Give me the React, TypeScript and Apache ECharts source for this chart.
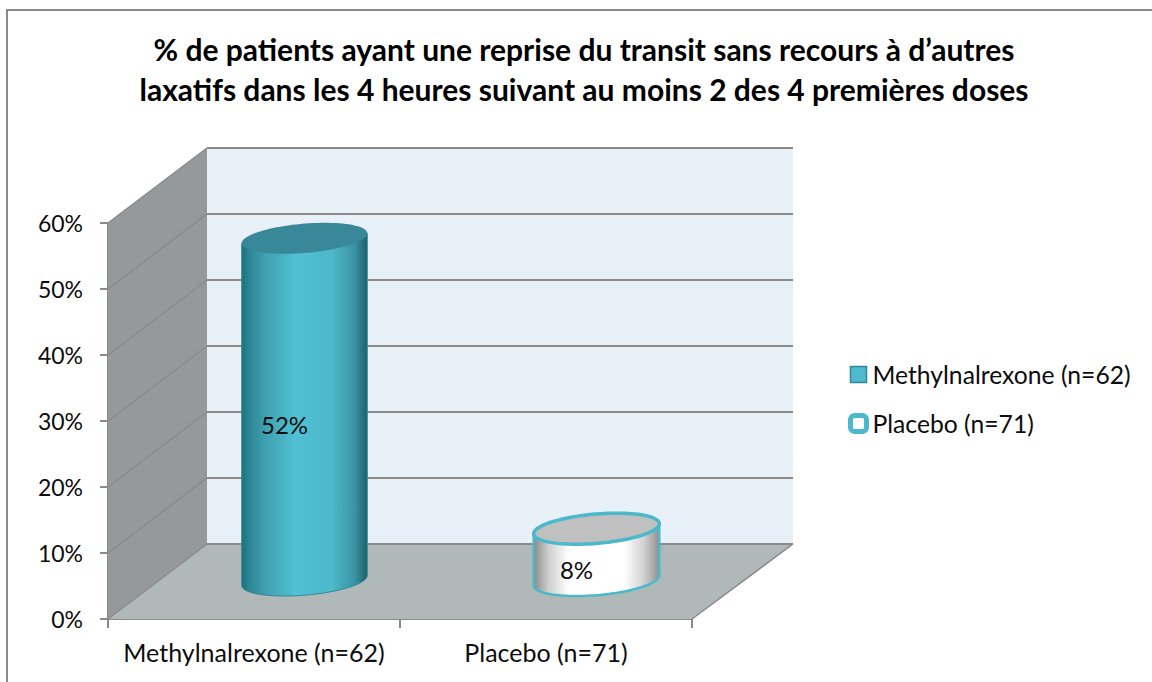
import React, { useEffect, useRef } from "react";
import * as echarts from "echarts";

const titleLines = [
  "% de patients ayant une reprise du transit sans recours à d’autres",
  "laxatifs dans les 4 heures suivant au moins 2 des 4 premières doses",
];
const categories = ["Methylnalrexone (n=62)", "Placebo (n=71)"];
const methylValues: [string, number][] = [["Methylnalrexone (n=62)", 52]];
const placeboValues: [string, number][] = [["Placebo (n=71)", 8]];
const gridValues = [0, 10, 20, 30, 40, 50, 60];

const FONT = "Lato, 'Open Sans', sans-serif";
const DEPTH_X = 99;
const DEPTH_Y = 75;
const BAR_SHIFT = 50.5;
const BASE_LIFT = 1;
const TILT = 5;
const ELL_V = 14.7;
const BAR_RATIO = 0.43;
const GRID_COLOR = "#8a8a8a";
const TEXT_COLOR = "#0d0d0d";

function ringPoint(cx: number, cy: number, a: number, t: number) {
  return [cx + a * Math.cos(t), cy - TILT * Math.cos(t) + ELL_V * Math.sin(t)];
}
function ringPoints(cx: number, cy: number, a: number, from: number, to: number, n: number) {
  const out: number[][] = [];
  for (let i = 0; i <= n; i++) out.push(ringPoint(cx, cy, a, from + ((to - from) * i) / n));
  return out;
}

function cylinder(api: any, bodyStops: any[], topFill: string, edge: string, edgeWidth: number, topEdgeWidth: number, topEdge: string) {
  const cat = api.value(0);
  const val = api.value(1);
  const base = api.coord([cat, 0]);
  const top = api.coord([cat, val]);
  const a = (api.size([1, 0])[0] * BAR_RATIO) / 2;
  const cx = base[0] + BAR_SHIFT;
  const by = base[1] - DEPTH_Y / 2 - BASE_LIFT;
  const ty = top[1] - DEPTH_Y / 2;
  const pts = [ringPoint(cx, ty, a, Math.PI), ...ringPoints(cx, by, a, Math.PI, 0, 64), ringPoint(cx, ty, a, 0)];
  const grad = new echarts.graphic.LinearGradient(0, 0, 1, 0, bodyStops);
  return {
    type: "group",
    children: [
      { type: "polygon", shape: { points: pts }, style: { fill: grad, stroke: edge, lineWidth: edgeWidth } },
      { type: "polygon", shape: { points: ringPoints(cx, ty, a, 0, Math.PI * 2, 96) }, style: { fill: topFill, stroke: topEdge, lineWidth: topEdgeWidth } },
      {
        type: "text",
        x: cx - 20,
        y: (ty + by) / 2 + 15,
        style: { text: `${val}%`, font: `24px ${FONT}`, fill: TEXT_COLOR, align: "center", verticalAlign: "middle" },
      },
    ],
  };
}

const methylStops = [
  { offset: 0, color: "#1f6f7f" },
  { offset: 0.06, color: "#2c8595" },
  { offset: 0.2, color: "#41a2b3" },
  { offset: 0.42, color: "#50c0d2" },
  { offset: 0.72, color: "#4cb8ca" },
  { offset: 0.9, color: "#3a93a2" },
  { offset: 1, color: "#1f5e6a" },
];
const placeboStops = [
  { offset: 0, color: "#8a8a8a" },
  { offset: 0.12, color: "#cfcfcf" },
  { offset: 0.28, color: "#ffffff" },
  { offset: 0.72, color: "#ffffff" },
  { offset: 0.88, color: "#d0d0d0" },
  { offset: 1, color: "#8f8f8f" },
];

export default function App() {
  const ref = useRef<HTMLDivElement>(null);
  useEffect(() => {
    document.body.style.margin = "0";
    const chart = echarts.init(ref.current!, null, { renderer: "svg" });
    chart.setOption({
      animation: false,
      backgroundColor: "#ffffff",
      title: {
        text: titleLines.join("\n"),
        left: 584,
        top: 29,
        padding: 0,
        textAlign: "center",
        textStyle: { fontFamily: FONT, fontSize: 30, fontWeight: "bold", color: "#000", lineHeight: 40 },
      },
      legend: {
        orient: "vertical",
        left: 848,
        top: 362,
        padding: 0,
        itemGap: 24,
        itemWidth: 16,
        itemHeight: 16,
        selectedMode: false,
        textStyle: { fontFamily: FONT, fontSize: 24.7, color: TEXT_COLOR, padding: [0, 0, 0, 1] },
        data: [
          { name: categories[0], icon: "rect", itemStyle: { color: "#4dbacd", borderColor: "#2f8798", borderWidth: 1.5 } },
          { name: categories[1], icon: "roundRect", itemStyle: { color: "#ffffff", borderColor: "#4bb8cb", borderWidth: 5 } },
        ],
      },
      grid: { left: 108, top: 223, width: 584, height: 396, containLabel: false },
      xAxis: {
        type: "category",
        data: categories,
        axisLine: { show: true, lineStyle: { color: GRID_COLOR, width: 2 } },
        axisTick: { show: true, length: 9, alignWithLabel: false, lineStyle: { color: GRID_COLOR, width: 2 } },
        axisLabel: { interval: 0, margin: 20, fontFamily: FONT, fontSize: 25, color: TEXT_COLOR },
      },
      yAxis: {
        type: "value",
        min: 0,
        max: 60,
        interval: 10,
        splitLine: { show: false },
        axisLine: { show: true, lineStyle: { color: GRID_COLOR, width: 2 } },
        axisTick: { show: true, length: 8, lineStyle: { color: GRID_COLOR, width: 2 } },
        axisLabel: { margin: 25, fontFamily: FONT, fontSize: 23, color: TEXT_COLOR, formatter: "{value}%" },
      },
      graphic: [
        {
          type: "rect",
          z: -10,
          silent: true,
          shape: { x: 7, y: 10, width: 1160, height: 690 },
          style: { fill: "none", stroke: "#8a8a8a", lineWidth: 2 },
        },
      ],
      series: [
        {
          type: "custom",
          name: "walls",
          z: 1,
          silent: true,
          data: [[0, 0]],
          renderItem: (params: any) => {
            const { x, y, width, height } = params.coordSys;
            const b = y + height;
            const r = x + width;
            return {
              type: "group",
              children: [
                { type: "rect", shape: { x: x + DEPTH_X, y: y - DEPTH_Y, width: width + 2, height }, style: { fill: "#e8f1f7" } },
                {
                  type: "polygon",
                  shape: { points: [[x, b], [x + DEPTH_X, b - DEPTH_Y], [x + DEPTH_X, y - DEPTH_Y], [x, y]] },
                  style: { fill: "#95999a" },
                },
                {
                  type: "polygon",
                  shape: { points: [[x, b], [r, b], [r + DEPTH_X + 2, b - DEPTH_Y], [x + DEPTH_X, b - DEPTH_Y]] },
                  style: { fill: "#b0b8b8" },
                },
              ],
            };
          },
        },
        {
          type: "custom",
          name: "gridlines",
          z: 2,
          silent: true,
          data: gridValues.map((v) => [0, v]),
          renderItem: (params: any, api: any) => {
            const { x, width } = params.coordSys;
            const yy = api.coord([0, api.value(1)])[1];
            const style = { stroke: GRID_COLOR, lineWidth: 2, fill: "none" };
            return {
              type: "group",
              children: [
                { type: "line", shape: { x1: x, y1: yy, x2: x + DEPTH_X, y2: yy - DEPTH_Y }, style: { ...style, lineWidth: 1.5 } },
                { type: "line", shape: { x1: x + DEPTH_X, y1: yy - DEPTH_Y, x2: x + DEPTH_X + width + 2, y2: yy - DEPTH_Y }, style },
              ],
            };
          },
        },
        {
          type: "custom",
          name: "floorEdge",
          z: 2,
          silent: true,
          data: [[0, 0]],
          renderItem: (params: any) => {
            const { x, y, width, height } = params.coordSys;
            const b = y + height;
            return {
              type: "line",
              shape: { x1: x + width, y1: b, x2: x + width + DEPTH_X + 2, y2: b - DEPTH_Y },
              style: { stroke: GRID_COLOR, lineWidth: 1.5 },
            };
          },
        },
        {
          type: "custom",
          name: categories[0],
          z: 3,
          silent: true,
          itemStyle: { color: "#4dbacd" },
          encode: { x: 0, y: 1 },
          data: methylValues,
          renderItem: (_p: any, api: any) => cylinder(api, methylStops, "#38889a", "#2f8a9a", 1, 0, "#38889a"),
        },
        {
          type: "custom",
          name: categories[1],
          z: 3,
          silent: true,
          itemStyle: { color: "#ffffff" },
          encode: { x: 0, y: 1 },
          data: placeboValues,
          renderItem: (_p: any, api: any) => cylinder(api, placeboStops, "#c0c0c0", "#4bb8cb", 2.5, 3.5, "#4bb8cb"),
        },
      ],
    });
    return () => chart.dispose();
  }, []);
  return <div ref={ref} style={{ width: 1152, height: 682 }} />;
}
